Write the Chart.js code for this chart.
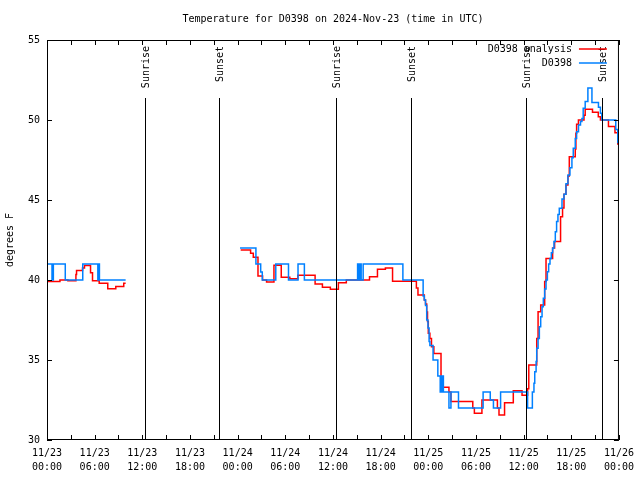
<!DOCTYPE html>
<html>
<head>
<meta charset="utf-8">
<script src="https://cdn.jsdelivr.net/npm/chart.js@4.4.0/dist/chart.umd.min.js"></script>
<style>
  html, body { margin: 0; padding: 0; background: #fff; }
</style>
</head>
<body>
<canvas id="myChart" width="640" height="480"></canvas>
<script>
// Zeit in Stunden seit 2024-11-23 00:00 UTC, Werte in Grad F
const analysisHours = [0, 1.63, 2.63, 3.64, 3.72, 4.47, 4.72, 5.48, 5.73, 6.57, 7.65, 8.66, 9.66, 9.9, 15,
  24.38, 25.63, 25.97, 26.56, 27.14, 27.64, 28.57, 29.49, 30.57, 31.58, 33.75, 34.67, 35.67, 36.68, 37.68,
  40.6, 41.6, 42.6, 43.5, 46.5, 46.7, 47.5, 47.65, 47.8, 47.9, 48.0, 48.2, 48.4, 48.7, 49.6, 49.85, 50.6,
  50.85, 53.6, 53.8, 54.75, 56.7, 56.9, 57.6, 58.7, 59.8, 60.5, 60.65, 61.65, 61.82, 62.15, 62.65, 62.82,
  63.65, 63.9, 64.65, 64.9, 65.08, 65.33, 65.58, 65.75, 66.5, 66.58, 66.67, 66.9, 67.6, 67.75, 68.67, 69.4,
  69.67, 70.68, 71.5, 71.85, 72];
const analysisTemps = [39.9, 40.0, 39.95, 40.35, 40.6, 40.75, 40.9, 40.45, 39.95, 39.8, 39.45, 39.6, 39.8, 39.8, null,
  41.875, 41.67, 41.42, 40.25, 40.0, 39.875, 40.92, 40.17, 40.08, 40.29, 39.75, 39.54, 39.42, 39.83, 40.0,
  40.2, 40.67, 40.75, 39.92, 39.5, 39.06, 38.75, 38.5, 38.0, 37.4, 36.67, 36.35, 35.83, 35.4, 33.96, 33.3, 33.0,
  32.4, 32.0, 31.67, 32.5, 32.0, 31.56, 32.33, 33.08, 32.8, 33.2, 34.69, 36.35, 38.02, 38.44, 39.9, 41.35,
  42.0, 42.4, 43.96, 44.5, 45.36, 45.94, 46.5, 47.71, 48.19, 49.17, 49.73, 50.0, 50.3, 50.67, 50.48, 50.2,
  50.0, 49.6, 49.2, 48.5, 48.5];

const obsHours = [0, 0.63, 0.8, 2.3, 4.5, 6.4, 6.5, 6.6, 9.9, 15,
  24.3, 26.3, 26.9, 27.1, 28.8, 30.4, 31.6, 32.4, 39.1, 39.25, 39.4, 39.55, 39.8, 44.8, 47.35, 47.5, 47.65,
  47.8, 47.96, 48.1, 48.2, 48.6, 49.2, 49.5, 49.6, 49.7, 49.8, 49.9, 50.6, 50.85, 51.8, 54.9, 55.8, 56.2,
  57.1, 60.5, 61.1, 61.3, 61.4, 61.57, 61.65, 61.82, 61.98, 62.15, 62.32, 62.48, 62.65, 62.82, 62.99, 63.15,
  63.32, 63.49, 63.65, 63.82, 63.99, 64.15, 64.32, 64.49, 64.83, 65.08, 65.33, 65.58, 65.83, 66.08, 66.25,
  66.5, 66.67, 66.91, 67.16, 67.34, 67.5, 67.75, 68.09, 68.6, 69.42, 69.67, 69.84, 71.6, 71.85, 72];
const obsTemps = [41, 40, 41, 40, 41, 40, 41, 40, 40, null,
  42, 41, 40.5, 40, 41, 40, 41, 40, 41, 40, 41, 40, 41, 40, 39, 38.75, 38.4,
  37.5, 37.0, 36.15, 35.9, 35.0, 34.0, 33.0, 34.0, 33.0, 34.0, 33.0, 32.0, 33.0, 32.0, 33.0, 32.5, 32.0,
  33.0, 32.0, 33.0, 33.54, 34.27, 34.9, 35.73, 36.35, 37.08, 37.7, 38.33, 38.86, 39.44, 40.0, 40.52, 41.0,
  41.35, 41.7, 41.98, 42.4, 43.02, 43.65, 44.1, 44.48, 45.06, 45.36, 46.02, 46.56, 47.02, 47.64, 48.23,
  48.85, 49.27, 49.69, 49.9, 50.1, 50.73, 51.15, 52.0, 51.1, 50.8, 50.42, 50.0, 49.4, 48.6, 48.6];

// Sonnenauf- und -untergang (Stunden)
const sunHours = [12.3, 21.7, 36.4, 45.8, 60.35, 69.9];
const sunLabels = ['Sunrise', 'Sunset', 'Sunrise', 'Sunset', 'Sunrise', 'Sunset'];

// Achsenbeschriftungen
const xTickHours = [0, 6, 12, 18, 24, 30, 36, 42, 48, 54, 60, 66, 72];
const xTickDates = ['11/23', '11/23', '11/23', '11/23', '11/24', '11/24', '11/24', '11/24', '11/25', '11/25', '11/25', '11/25', '11/26'];
const xTickTimes = ['00:00', '06:00', '12:00', '18:00', '00:00', '06:00', '12:00', '18:00', '00:00', '06:00', '12:00', '18:00', '00:00'];
const yTicks = [30, 35, 40, 45, 50, 55];

const chartTitle = 'Temperature for D0398 on 2024-Nov-23 (time in UTC)';
const monoFont = "'DejaVu Sans Mono', 'Liberation Mono', monospace";

function toPoints(hours, temps) {
  return hours.map((h, i) => ({ x: h, y: temps[i] }));
}

// Titel, Rahmen, Ticks nach innen, Sonnenlinien und Legende
const framePlugin = {
  id: 'frame',
  afterDatasetsDraw(chart) {
    const ctx = chart.ctx;
    const area = chart.chartArea;
    const xs = chart.scales.x;
    const ys = chart.scales.y;
    ctx.save();
    ctx.strokeStyle = '#000';
    ctx.lineWidth = 1;

    // Titel über der Plotfläche zentriert
    ctx.font = '10px ' + monoFont;
    ctx.fillStyle = '#000';
    ctx.textAlign = 'center';
    ctx.textBaseline = 'middle';
    ctx.fillText(chartTitle, (area.left + area.right) / 2, 19);

    // Ticks
    ctx.beginPath();
    for (let h = 0; h <= 72; h += 3) {
      const px = Math.round(xs.getPixelForValue(h)) + 0.5;
      ctx.moveTo(px, area.bottom);
      ctx.lineTo(px, area.bottom - 5);
      ctx.moveTo(px, area.top);
      ctx.lineTo(px, area.top + 5);
    }
    yTicks.forEach(v => {
      const py = Math.round(ys.getPixelForValue(v)) + 0.5;
      ctx.moveTo(area.left, py);
      ctx.lineTo(area.left + 5, py);
      ctx.moveTo(area.right, py);
      ctx.lineTo(area.right - 5, py);
    });
    ctx.stroke();

    // Sunrise / Sunset
    sunHours.forEach((h, i) => {
      const px = Math.round(xs.getPixelForValue(h)) + 0.5;
      ctx.beginPath();
      ctx.moveTo(px, area.top + 58);
      ctx.lineTo(px, area.bottom);
      ctx.stroke();
      ctx.save();
      ctx.translate(px + 1, area.top + 6);
      ctx.rotate(-Math.PI / 2);
      ctx.textAlign = 'right';
      ctx.textBaseline = 'middle';
      ctx.fillText(sunLabels[i], 0, 0);
      ctx.restore();
    });

    // Legende oben rechts
    ctx.textAlign = 'right';
    ctx.textBaseline = 'middle';
    chart.data.datasets.forEach((ds, i) => {
      const y = area.top + 9 + i * 14;
      ctx.fillStyle = '#000';
      ctx.fillText(ds.label, area.right - 47, y);
      ctx.strokeStyle = ds.borderColor;
      ctx.lineWidth = 1.5;
      ctx.beginPath();
      ctx.moveTo(area.right - 40, y);
      ctx.lineTo(area.right - 12, y);
      ctx.stroke();
    });

    // Rahmen
    ctx.strokeStyle = '#000';
    ctx.lineWidth = 1;
    ctx.strokeRect(area.left + 0.5, area.top + 0.5, area.right - area.left - 1, area.bottom - area.top - 1);
    ctx.restore();
  }
};

const ctx = document.getElementById('myChart').getContext('2d');

let chart = new Chart(ctx, {
  type: 'line',
  data: {
    datasets: [
      {
        label: 'D0398 analysis',
        data: toPoints(analysisHours, analysisTemps),
        borderColor: '#ff0000',
        borderWidth: 1.5,
        pointRadius: 0,
        stepped: 'before',
        spanGaps: false,
        order: 1
      },
      {
        label: 'D0398',
        data: toPoints(obsHours, obsTemps),
        borderColor: '#0080ff',
        borderWidth: 1.5,
        pointRadius: 0,
        stepped: 'before',
        spanGaps: false,
        order: 0
      }
    ]
  },
  options: {
    responsive: false,
    animation: false,
    layout: { padding: { top: 40, right: 19, bottom: 0, left: 0 } },
    plugins: {
      legend: { display: false },
      tooltip: { enabled: false },
      title: { display: false }
    },
    scales: {
      x: {
        type: 'linear',
        min: 0,
        max: 72,
        afterBuildTicks: (scale) => { scale.ticks = xTickHours.map(v => ({ value: v })); },
        afterFit: (scale) => { scale.height = 40; },
        grid: { display: false, drawTicks: false },
        border: { display: false },
        ticks: {
          autoSkip: false,
          maxRotation: 0,
          padding: 6,
          color: '#000',
          font: { family: monoFont, size: 10, lineHeight: 1.4 },
          callback: (value) => {
            const i = xTickHours.indexOf(value);
            return i >= 0 ? [xTickDates[i], xTickTimes[i]] : '';
          }
        }
      },
      y: {
        min: 30,
        max: 55,
        afterBuildTicks: (scale) => { scale.ticks = yTicks.map(v => ({ value: v })); },
        afterFit: (scale) => { scale.width = 47; },
        grid: { display: false, drawTicks: false },
        border: { display: false },
        ticks: {
          padding: 7,
          color: '#000',
          font: { family: monoFont, size: 10 }
        },
        title: {
          display: true,
          text: 'degrees F',
          color: '#000',
          font: { family: monoFont, size: 10, lineHeight: 1.2 },
          padding: { top: 4, bottom: 4 }
        }
      }
    }
  },
  plugins: [framePlugin]
});
</script>
</body>
</html>
